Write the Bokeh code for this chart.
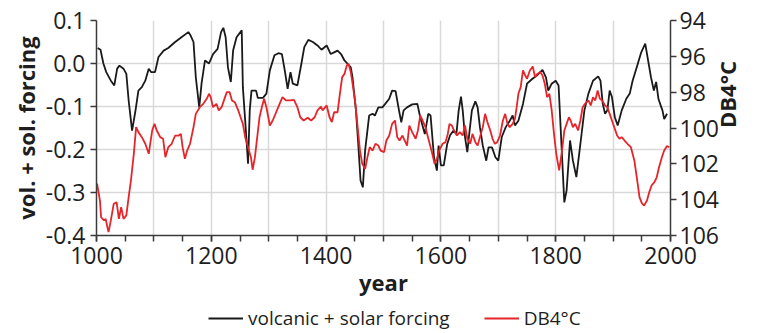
import math
from bokeh.plotting import figure
from bokeh.layouts import column
from bokeh.models import (Range1d, LinearAxis, FixedTicker, NumeralTickFormatter,
                          Legend, LegendItem)
from bokeh.embed import file_html
from bokeh.resources import INLINE

# ---- data: volcanic + solar forcing (left axis) ----
forcing_year = [1002,1007,1012,1017,1025,1031,1036,1040,1047,1052,1056,1062,1068,1073,1079,1085,1091,1095,
                1102,1108,1117,1125,1137,1148,1160,1164,1169,1173,1179,1183,1189,1196,1203,1211,1217,1221,
                1225,1229,1234,1238,1244,1253,1255,1261,1264,1267,1270,1278,1281,1290,1296,1302,1310,1317,
                1323,1328,1333,1338,1342,1350,1357,1362,1369,1377,1385,1392,1401,1408,1414,1420,1426,1432,
                1437,1443,1446,1452,1456,1460,1464,1468,1475,1481,1485,1491,1498,1503,1510,1515,1521,1527,
                1531,1535,1541,1550,1559,1564,1572,1578,1582,1588,1593,1596,1600,1605,1611,1616,1622,1627,
                1631,1635,1638,1642,1646,1650,1654,1660,1664,1668,1673,1679,1683,1689,1695,1700,1706,1713,
                1720,1725,1729,1735,1743,1750,1759,1767,1777,1783,1787,1793,1800,1805,1810,1815,1819,1825,
                1830,1836,1843,1850,1857,1865,1874,1878,1882,1886,1890,1894,1898,1903,1908,1915,1923,1929,
                1934,1942,1949,1956,1960,1966,1971,1975,1979,1983,1986,1989,1994]
forcing_val = [0.036,0.032,0.0,-0.02,-0.04,-0.051,-0.012,-0.005,-0.012,-0.024,-0.086,-0.156,-0.109,-0.063,
               -0.055,-0.04,-0.012,-0.02,-0.02,0.015,0.03,0.036,0.05,0.061,0.073,0.065,0.05,-0.032,-0.102,
               -0.047,0.007,0.0,0.022,0.034,0.073,0.083,0.061,-0.009,-0.043,0.03,0.061,0.077,-0.055,-0.171,
               -0.233,-0.109,-0.063,-0.063,-0.08,-0.08,-0.07,-0.016,0.019,0.024,0.022,-0.016,-0.059,-0.02,
               -0.047,-0.051,0.0,0.038,0.055,0.05,0.042,0.032,0.042,0.022,0.026,0.03,0.022,0.007,0.0,-0.009,
               -0.032,-0.109,-0.187,-0.272,-0.288,-0.202,-0.121,-0.117,-0.121,-0.102,-0.102,-0.094,-0.082,
               -0.063,-0.064,-0.109,-0.137,-0.109,-0.102,-0.095,-0.094,-0.125,-0.164,-0.117,-0.121,-0.218,
               -0.249,-0.191,-0.237,-0.237,-0.187,-0.167,-0.156,-0.164,-0.109,-0.077,-0.109,-0.171,-0.206,
               -0.156,-0.109,-0.088,-0.102,-0.148,-0.191,-0.226,-0.195,-0.195,-0.218,-0.226,-0.171,-0.148,
               -0.133,-0.121,-0.144,-0.133,-0.094,-0.047,-0.036,-0.028,-0.015,-0.032,-0.063,-0.047,-0.04,
               -0.051,-0.187,-0.323,-0.295,-0.179,-0.226,-0.264,-0.187,-0.109,-0.07,-0.04,-0.03,-0.04,-0.094,
               -0.117,-0.109,-0.063,-0.078,-0.125,-0.144,-0.109,-0.082,-0.07,-0.04,-0.005,0.026,0.046,0.015,
               -0.032,-0.063,-0.043,-0.082,-0.098,-0.109,-0.129,-0.117]

# ---- data: DB4°C (right axis, inverted) ----
db_year = [1001,1006,1008,1013,1016,1019,1021,1025,1030,1035,1039,1043,1047,1052,1056,1060,1065,1069,1073,
           1079,1085,1091,1097,1101,1105,1111,1116,1120,1125,1131,1137,1143,1147,1150,1154,1158,1163,1169,
           1173,1180,1186,1192,1196,1199,1203,1209,1213,1218,1222,1227,1232,1236,1241,1247,1251,1255,1259,
           1264,1269,1272,1276,1280,1284,1288,1292,1296,1302,1307,1313,1319,1324,1330,1338,1344,1350,1355,
           1361,1368,1374,1380,1385,1391,1394,1401,1406,1410,1414,1420,1424,1428,1432,1436,1439,1443,1447,
           1451,1455,1459,1463,1468,1472,1476,1481,1486,1491,1495,1501,1505,1510,1515,1520,1524,1528,1533,
           1537,1541,1545,1550,1556,1560,1564,1568,1573,1579,1585,1589,1593,1597,1603,1608,1612,1615,1619,
           1623,1628,1633,1638,1642,1646,1651,1655,1660,1664,1668,1673,1677,1681,1686,1690,1694,1698,1703,
           1708,1712,1716,1720,1725,1729,1732,1735,1739,1743,1747,1750,1755,1760,1764,1768,1773,1777,1781,
           1785,1789,1793,1797,1801,1806,1811,1815,1819,1823,1826,1830,1834,1839,1843,1847,1851,1857,1861,
           1865,1869,1873,1877,1881,1886,1890,1894,1898,1903,1907,1911,1915,1920,1925,1931,1937,1942,1946,
           1950,1954,1959,1963,1967,1972,1976,1980,1985,1989,1994,1998]
db_val = [103.11,104.05,104.98,105.16,105.07,105.54,105.81,105.16,104.23,104.14,105.07,104.42,105.07,104.88,
          103.86,102.93,101.44,99.95,100.23,100.51,100.88,101.44,100.14,99.77,100.14,100.51,100.60,101.63,
          101.07,100.88,100.42,100.42,100.33,101.07,101.72,101.26,100.88,99.95,99.21,98.84,98.65,98.37,98.09,
          98.28,98.84,98.65,99.02,98.84,98.46,98.0,98.0,98.46,98.56,99.02,99.40,99.77,100.51,101.07,101.63,
          102.33,101.63,100.51,99.40,98.84,98.37,98.84,99.86,99.58,99.12,98.65,98.28,98.46,98.46,98.43,98.84,
          99.40,99.58,99.43,99.58,99.40,99.02,98.80,99.02,98.74,99.40,99.67,99.12,99.12,98.09,97.16,96.98,
          96.51,96.42,96.88,97.72,98.65,99.95,101.26,102.0,102.28,101.63,101.07,101.26,100.88,100.98,101.26,
          101.35,100.70,100.42,99.77,99.58,100.51,100.70,100.42,100.70,100.98,99.86,100.23,100.60,100.14,
          99.30,99.58,99.95,100.70,101.44,102.0,101.72,101.26,100.88,100.79,100.33,99.77,99.86,100.14,100.42,
          100.23,100.42,99.86,100.60,100.88,100.33,100.79,100.98,100.51,99.95,99.21,99.67,100.14,100.60,
          100.88,100.79,100.42,99.58,99.21,99.77,99.95,99.77,99.49,98.84,98.09,97.72,96.79,97.07,97.25,96.79,
          96.57,97.16,96.98,96.88,97.07,97.53,98.28,98.09,99.0,100.33,101.44,102.37,101.26,100.14,99.77,
          99.40,99.58,99.95,99.77,100.14,99.58,98.84,98.65,98.46,98.74,98.28,98.46,97.91,98.37,98.46,98.74,
          98.84,99.21,99.58,100.05,100.42,100.60,100.51,100.70,100.88,101.07,101.81,102.93,103.86,104.19,
          104.33,104.05,103.58,103.21,103.02,102.75,102.19,101.63,101.26,101.0,101.07]

x_major = [1000, 1200, 1400, 1600, 1800, 2000]
x_minor = list(range(1000, 2001, 50))
x_grid = list(range(1000, 2001, 100))
y_left_ticks = [-0.4, -0.3, -0.2, -0.1, 0.0, 0.1]
y_right_ticks = [94, 96, 98, 100, 102, 104, 106]
series_names = ["volcanic + solar forcing", "DB4°C"]
series_colors = ["#1a1a1a", "#e5252a"]

FONT = "Open Sans"
TXT = "#1e1e1e"
AX = "#3a3a3a"
GRID = "#d9d9d9"

p = figure(width=759, height=303, output_backend="svg", toolbar_location=None,
           x_range=Range1d(1000, 2000), y_range=Range1d(-0.4, 0.1),
           min_border_left=96, min_border_right=86, min_border_top=20, min_border_bottom=68)
p.extra_y_ranges = {"db": Range1d(start=106, end=94)}
p.outline_line_color = None
p.background_fill_color = "white"
p.border_fill_color = "white"

# grids
p.xgrid.ticker = FixedTicker(ticks=x_grid)
p.xgrid.grid_line_color = GRID
p.xgrid.grid_line_width = 1.5
p.ygrid.ticker = FixedTicker(ticks=y_left_ticks)
p.ygrid.grid_line_color = GRID
p.ygrid.grid_line_width = 1.5

xa = p.xaxis[0]
xa.ticker = FixedTicker(ticks=x_major, minor_ticks=x_minor)
ya = p.yaxis[0]
ya.ticker = FixedTicker(ticks=y_left_ticks)
ya.formatter = NumeralTickFormatter(format="0.0")
yr = LinearAxis(y_range_name="db", ticker=FixedTicker(ticks=y_right_ticks))
p.add_layout(yr, "right")

for ax in (xa, ya, yr):
    ax.axis_line_color = AX
    ax.axis_line_width = 1.5
    ax.major_tick_line_color = AX
    ax.major_tick_line_width = 1.5
    ax.major_tick_out = 6
    ax.major_tick_in = 0
    ax.minor_tick_line_color = None
    ax.major_label_text_font = FONT
    ax.major_label_text_font_size = "23px"
    ax.major_label_text_color = TXT
    ax.axis_label_text_font = FONT
    ax.axis_label_text_font_size = "22px"
    ax.axis_label_text_font_style = "bold"
    ax.axis_label_text_color = TXT
xa.minor_tick_line_color = AX
xa.minor_tick_line_width = 1.5
xa.minor_tick_out = 6
xa.minor_tick_in = 0
xa.major_label_standoff = 5
ya.major_label_standoff = 5
yr.major_label_standoff = 3

xa.axis_label = "year"
xa.axis_label_standoff = 0
ya.axis_label = "vol. + sol. forcing"
ya.axis_label_standoff = 2
yr.axis_label = "DB4°C"
yr.axis_label_standoff = 5
if "axis_label_orientation" in yr.properties():
    yr.axis_label_orientation = math.pi / 2

# lines
r1 = p.line(forcing_year, forcing_val, line_color=series_colors[0], line_width=1.8)
r2 = p.line(db_year, db_val, y_range_name="db", line_color=series_colors[1], line_width=1.8)

# legend strip below the chart (proxy renderers hold a single NaN so nothing is drawn)
pl = figure(width=759, height=30, output_backend="svg", toolbar_location=None,
            x_range=Range1d(0, 1), y_range=Range1d(0, 1), min_border=0)
pl.axis.visible = False
pl.grid.visible = False
pl.outline_line_color = None
nan = float("nan")
lr1 = pl.line(x=[nan], y=[nan], line_color=series_colors[0], line_width=1.8)
lr2 = pl.line(x=[nan], y=[nan], line_color=series_colors[1], line_width=1.8)
legend = Legend(items=[LegendItem(label=series_names[0], renderers=[lr1]),
                       LegendItem(label=series_names[1], renderers=[lr2])],
                orientation="horizontal", location=(112, 2), padding=0, margin=0,
                spacing=34, glyph_width=35, label_standoff=5,
                border_line_color=None, background_fill_alpha=0,
                label_text_font=FONT, label_text_font_size="19px", label_text_color=TXT)
pl.add_layout(legend)

open("out.html", "w").write(file_html(column(p, pl, spacing=0), INLINE))
